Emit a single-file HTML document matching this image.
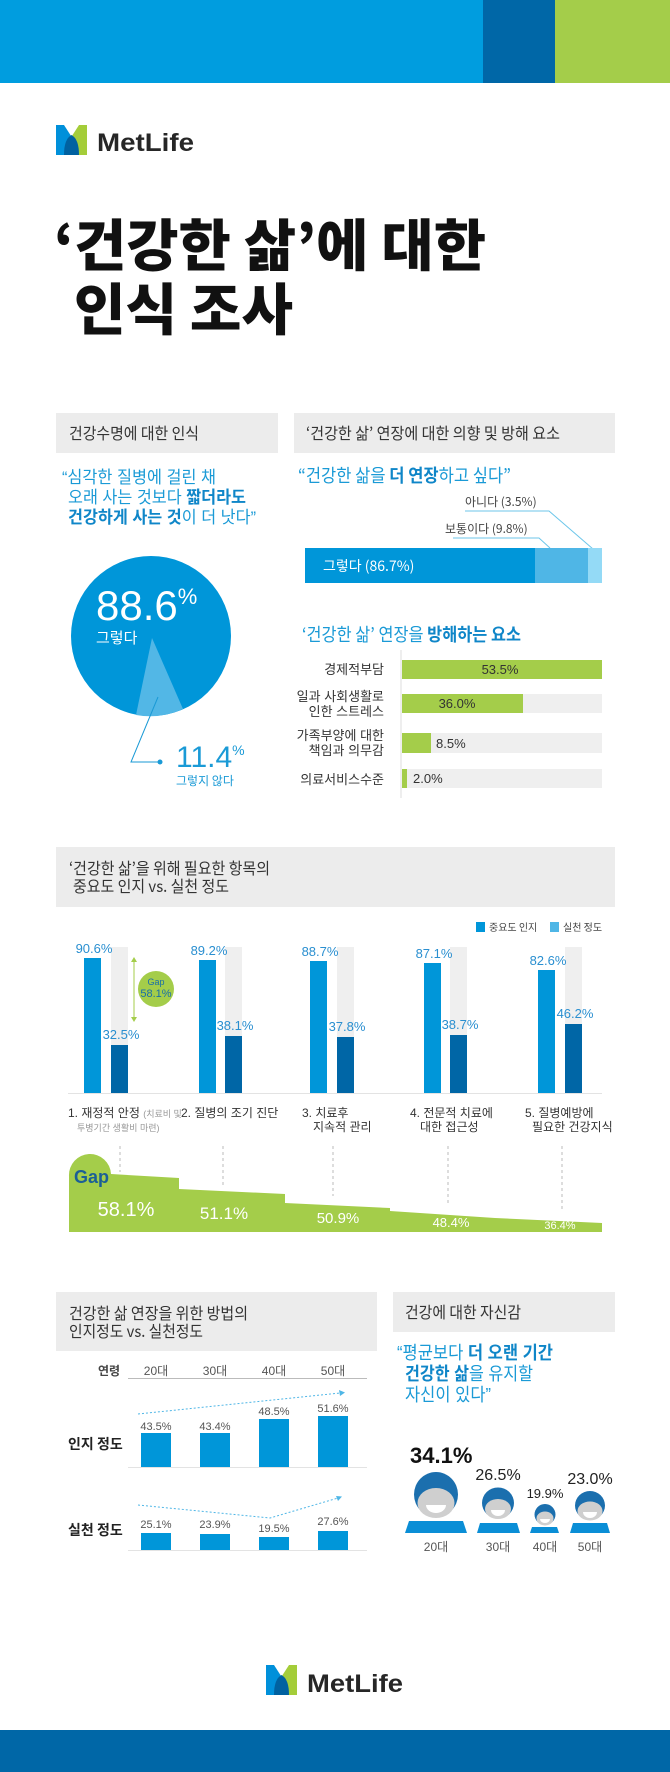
<!DOCTYPE html>
<html><head><meta charset="utf-8">
<style>
html,body{margin:0;padding:0;background:#fff;}
svg{display:block;}
text{font-family:"Liberation Sans","Noto Sans CJK KR",sans-serif;}
.k{font-family:"Noto Sans CJK KR","Liberation Sans",sans-serif;}
</style></head><body>
<svg width="670" height="1772" viewBox="0 0 670 1772" xmlns="http://www.w3.org/2000/svg">
<rect x="0" y="0" width="483" height="83" fill="#009ddf"/>
<rect x="483" y="0" width="72" height="83" fill="#0067a7"/>
<rect x="555" y="0" width="115" height="83" fill="#a4cd4a"/>

<g transform="translate(56,125)">
<polygon points="0,0 8,0 17,14 17,30 0,30" fill="#0090da"/>
<polygon points="23,0 31,0 31,30 14,30 14,14" fill="#a4cd39"/>
<path d="M8,30 Q8,14 15.5,10 Q23,14 23,30 Z" fill="#0061a0"/>
</g>
<text x="97" y="151" font-size="25" font-weight="bold" fill="#262626" textLength="97" lengthAdjust="spacingAndGlyphs">MetLife</text>

<text class="k" x="54" y="266" font-size="56" font-weight="900" fill="#111" textLength="432" lengthAdjust="spacingAndGlyphs">‘건강한 삶’에 대한</text>
<text class="k" x="74" y="330" font-size="56" font-weight="900" fill="#111" textLength="219" lengthAdjust="spacingAndGlyphs">인식 조사</text>

<rect x="56" y="413" width="222" height="40" fill="#ececec"/>
<rect x="294" y="413" width="321" height="40" fill="#ececec"/>
<text class="k" x="69" y="439" font-size="16" fill="#333" textLength="130" lengthAdjust="spacingAndGlyphs">건강수명에 대한 인식</text>
<text class="k" x="306" y="439" font-size="16" fill="#333" textLength="254" lengthAdjust="spacingAndGlyphs">‘건강한 삶’ 연장에 대한 의향 및 방해 요소</text>

<g class="k" font-size="17" fill="#1a9ad6">
<text x="62" y="483" textLength="154" lengthAdjust="spacingAndGlyphs">“심각한 질병에 걸린 채</text>
<text x="68" y="503" textLength="178" lengthAdjust="spacingAndGlyphs">오래 사는 것보다 <tspan font-weight="bold" fill="#0f86c8">짧더라도</tspan></text>
<text x="68" y="523" textLength="188" lengthAdjust="spacingAndGlyphs"><tspan font-weight="bold" fill="#0f86c8">건강하게 사는 것</tspan>이 더 낫다”</text>
</g>

<circle cx="151" cy="636" r="80" fill="#0096d9"/>
<path d="M152,638 L136,715 A80,80 0 0 0 183,709 Z" fill="#52b7e6"/>
<text x="96" y="620" font-size="42" fill="#fff">88.6<tspan font-size="22" dy="-16">%</tspan></text>
<text class="k" x="96" y="643" font-size="15" fill="#fff">그렇다</text>
<polyline points="158,697 131,762 160,762" fill="none" stroke="#1a9ad6" stroke-width="1"/>
<circle cx="160" cy="762" r="2.5" fill="#1a9ad6"/>
<text x="176" y="767" font-size="30" fill="#1a9ad6">11.4<tspan font-size="14" dy="-12">%</tspan></text>
<text class="k" x="176" y="785" font-size="12" fill="#1a9ad6">그렇지 않다</text>

<text class="k" x="298" y="482" font-size="18" fill="#1a9ad6" textLength="213" lengthAdjust="spacingAndGlyphs">“건강한 삶을 <tspan font-weight="bold" fill="#0f86c8">더 연장</tspan>하고 싶다”</text>
<text class="k" x="465" y="506" font-size="12" fill="#444">아니다 (3.5%)</text>
<text class="k" x="445" y="533" font-size="12" fill="#444">보통이다 (9.8%)</text>
<polyline points="465,511 549,511 593,549" fill="none" stroke="#6cc6ea" stroke-width="1"/>
<polyline points="453,538 539,538 550,548" fill="none" stroke="#6cc6ea" stroke-width="1"/>
<rect x="305" y="548" width="230" height="35" fill="#0096d9"/>
<rect x="535" y="548" width="53" height="35" fill="#4fb6e6"/>
<rect x="588" y="548" width="14" height="35" fill="#94daf6"/>
<text class="k" x="323" y="571" font-size="14" fill="#fff">그렇다 (86.7%)</text>

<text class="k" x="302" y="641" font-size="18" fill="#1a9ad6" textLength="219" lengthAdjust="spacingAndGlyphs">‘건강한 삶’ 연장을 <tspan font-weight="bold" fill="#0f86c8">방해하는 요소</tspan></text>
<line x1="401" y1="650" x2="401" y2="798" stroke="#ddd" stroke-width="1"/>
<g fill="#efefef">
<rect x="402" y="660" width="200" height="19"/>
<rect x="402" y="694" width="200" height="19"/>
<rect x="402" y="733" width="200" height="20"/>
<rect x="402" y="769" width="200" height="19"/>
</g>
<g fill="#a4cd4a">
<rect x="402" y="660" width="200" height="19"/>
<rect x="402" y="694" width="121" height="19"/>
<rect x="402" y="733" width="29" height="20"/>
<rect x="402" y="769" width="5" height="19"/>
</g>
<g font-size="13" fill="#333">
<text x="500" y="674" text-anchor="middle">53.5%</text>
<text x="457" y="708" text-anchor="middle">36.0%</text>
<text x="436" y="748">8.5%</text>
<text x="413" y="783">2.0%</text>
</g>
<g class="k" font-size="13" fill="#333" text-anchor="end">
<text x="384" y="674">경제적부담</text>
<text x="384" y="701">일과 사회생활로</text>
<text x="384" y="716">인한 스트레스</text>
<text x="384" y="740">가족부양에 대한</text>
<text x="384" y="755">책임과 의무감</text>
<text x="384" y="784">의료서비스수준</text>
</g>

<rect x="56" y="847" width="559" height="60" fill="#ececec"/>
<text class="k" x="69" y="874" font-size="16" fill="#333" textLength="201" lengthAdjust="spacingAndGlyphs">‘건강한 삶’을 위해 필요한 항목의</text>
<text class="k" x="73" y="892" font-size="16" fill="#333" textLength="156" lengthAdjust="spacingAndGlyphs">중요도 인지 vs. 실천 정도</text>

<rect x="476" y="922" width="9" height="10" fill="#0096d9"/>
<text class="k" x="489" y="931" font-size="10" fill="#444">중요도 인지</text>
<rect x="550" y="922" width="9" height="10" fill="#4fb6e6"/>
<text class="k" x="563" y="931" font-size="10" fill="#444">실천 정도</text>

<g fill="#efefef">
<rect x="111" y="947" width="17" height="146"/>
<rect x="225" y="947" width="17" height="146"/>
<rect x="337" y="947" width="17" height="146"/>
<rect x="450" y="947" width="17" height="146"/>
<rect x="565" y="947" width="17" height="146"/>
</g>
<g fill="#0096d9">
<rect x="84" y="958" width="17" height="135"/>
<rect x="199" y="960" width="17" height="133"/>
<rect x="310" y="961" width="17" height="132"/>
<rect x="424" y="963" width="17" height="130"/>
<rect x="538" y="970" width="17" height="123"/>
</g>
<g fill="#0066a6">
<rect x="111" y="1045" width="17" height="48"/>
<rect x="225" y="1036" width="17" height="57"/>
<rect x="337" y="1037" width="17" height="56"/>
<rect x="450" y="1035" width="17" height="58"/>
<rect x="565" y="1024" width="17" height="69"/>
</g>
<line x1="68" y1="1093.5" x2="602" y2="1093.5" stroke="#e3e3e3" stroke-width="1"/>
<g font-size="13" fill="#2a8fd0" text-anchor="middle">
<text x="94" y="953">90.6%</text>
<text x="209" y="955">89.2%</text>
<text x="320" y="956">88.7%</text>
<text x="434" y="958">87.1%</text>
<text x="548" y="965">82.6%</text>
<text x="121" y="1039">32.5%</text>
<text x="235" y="1030">38.1%</text>
<text x="347" y="1031">37.8%</text>
<text x="460" y="1029">38.7%</text>
<text x="575" y="1018">46.2%</text>
</g>
<line x1="134" y1="960" x2="134" y2="1019" stroke="#a4cd4a" stroke-width="1"/>
<polygon points="131,962 137,962 134,957" fill="#a4cd4a"/>
<polygon points="131,1017 137,1017 134,1022" fill="#a4cd4a"/>
<circle cx="156" cy="989" r="18" fill="#a4cd4a"/>
<text x="156" y="985" font-size="9" fill="#1a6ea8" text-anchor="middle">Gap</text>
<text x="156" y="997" font-size="11" fill="#1a6ea8" text-anchor="middle">58.1%</text>

<g class="k" font-size="12" fill="#333">
<text x="68" y="1117">1. 재정적 안정 <tspan fill="#999" font-size="9">(치료비 및</tspan></text>
<text x="77" y="1131" fill="#999" font-size="9">투병기간 생활비 마련)</text>
<text x="181" y="1117">2. 질병의 조기 진단</text>
<text x="302" y="1117">3. 치료후</text>
<text x="313" y="1131">지속적 관리</text>
<text x="410" y="1117">4. 전문적 치료에</text>
<text x="420" y="1131">대한 접근성</text>
<text x="525" y="1117">5. 질병예방에</text>
<text x="532" y="1131">필요한 건강지식</text>
</g>

<g stroke="#bbb" stroke-width="1" stroke-dasharray="3,3">
<line x1="120" y1="1146" x2="120" y2="1172"/>
<line x1="223" y1="1146" x2="223" y2="1186"/>
<line x1="333" y1="1146" x2="333" y2="1196"/>
<line x1="448" y1="1146" x2="448" y2="1206"/>
<line x1="562" y1="1146" x2="562" y2="1212"/>
</g>
<path d="M69,1232 L69,1176 A21,21 0 0 1 111,1174 L179,1178 L179,1189 L285,1194 L285,1203 L390,1208 L390,1211 L495,1218 L602,1223 L602,1232 Z" fill="#a4cd4a"/>
<text x="74" y="1183" font-size="18" font-weight="bold" fill="#1b5f96">Gap</text>
<g fill="#fff" text-anchor="middle">
<text x="126" y="1216" font-size="20">58.1%</text>
<text x="224" y="1219" font-size="17">51.1%</text>
<text x="338" y="1223" font-size="15">50.9%</text>
<text x="451" y="1227" font-size="13">48.4%</text>
<text x="560" y="1229" font-size="11">36.4%</text>
</g>

<rect x="56" y="1292" width="321" height="59" fill="#ececec"/>
<text class="k" x="69" y="1319" font-size="16" fill="#333" textLength="179" lengthAdjust="spacingAndGlyphs">건강한 삶 연장을 위한 방법의</text>
<text class="k" x="69" y="1337" font-size="16" fill="#333" textLength="134" lengthAdjust="spacingAndGlyphs">인지정도 vs. 실천정도</text>

<text class="k" x="98" y="1375" font-size="12" fill="#444" font-weight="bold">연령</text>
<g class="k" font-size="12" fill="#555" text-anchor="middle">
<text x="156" y="1375">20대</text>
<text x="215" y="1375">30대</text>
<text x="274" y="1375">40대</text>
<text x="333" y="1375">50대</text>
</g>
<line x1="128" y1="1378.5" x2="367" y2="1378.5" stroke="#bbb" stroke-width="1"/>

<text class="k" x="68" y="1449" font-size="14" font-weight="bold" fill="#222">인지 정도</text>
<text class="k" x="68" y="1535" font-size="14" font-weight="bold" fill="#222">실천 정도</text>

<g fill="#0096d9">
<rect x="141" y="1433" width="30" height="34"/>
<rect x="200" y="1433" width="30" height="34"/>
<rect x="259" y="1419" width="30" height="48"/>
<rect x="318" y="1416" width="30" height="51"/>
<rect x="141" y="1533" width="30" height="17"/>
<rect x="200" y="1534" width="30" height="16"/>
<rect x="259" y="1537" width="30" height="13"/>
<rect x="318" y="1531" width="30" height="19"/>
</g>
<line x1="128" y1="1467.5" x2="367" y2="1467.5" stroke="#e3e3e3"/>
<line x1="128" y1="1550.5" x2="367" y2="1550.5" stroke="#e3e3e3"/>
<g font-size="11" fill="#555" text-anchor="middle">
<text x="156" y="1430">43.5%</text>
<text x="215" y="1430">43.4%</text>
<text x="274" y="1415">48.5%</text>
<text x="333" y="1412">51.6%</text>
<text x="156" y="1528">25.1%</text>
<text x="215" y="1528">23.9%</text>
<text x="274" y="1532">19.5%</text>
<text x="333" y="1525">27.6%</text>
</g>
<g stroke="#4fb6e6" stroke-width="1" stroke-dasharray="2,2" fill="none">
<line x1="138" y1="1414" x2="340" y2="1393"/>
<polyline points="138,1505 270,1518 338,1498"/>
</g>
<polygon points="339,1390 345,1392.5 340,1396" fill="#4fb6e6"/>
<polygon points="336,1496 342,1496.5 338,1501" fill="#4fb6e6"/>

<rect x="393" y="1292" width="222" height="40" fill="#ececec"/>
<text class="k" x="405" y="1318" font-size="16" fill="#333" textLength="116" lengthAdjust="spacingAndGlyphs">건강에 대한 자신감</text>
<g class="k" font-size="18" fill="#1a9ad6">
<text x="397" y="1359" textLength="156" lengthAdjust="spacingAndGlyphs">“평균보다 <tspan font-weight="bold" fill="#0f86c8">더 오랜 기간</tspan></text>
<text x="405" y="1380" textLength="128" lengthAdjust="spacingAndGlyphs"><tspan font-weight="bold" fill="#0f86c8">건강한 삶</tspan>을 유지할</text>
<text x="405" y="1401" textLength="86" lengthAdjust="spacingAndGlyphs">자신이 있다”</text>
</g>

<text x="410" y="1463" font-size="22" font-weight="bold" fill="#111">34.1%</text>
<text x="498" y="1480" font-size="16" fill="#222" text-anchor="middle">26.5%</text>
<text x="545" y="1498" font-size="13" fill="#222" text-anchor="middle">19.9%</text>
<text x="590" y="1484" font-size="16" fill="#222" text-anchor="middle">23.0%</text>

<g>
<ellipse cx="436" cy="1494.5" rx="22" ry="22.5" fill="#1b6fae"/>
<ellipse cx="436" cy="1503" rx="18.5" ry="15" fill="#cfcfcf"/>
<path d="M426,1505 A10,8 0 0 0 446,1505 Z" fill="#fff"/>
<polygon points="409,1521 463,1521 467,1533 405,1533" fill="#0a8ed6"/>
<ellipse cx="498" cy="1503" rx="16" ry="15.5" fill="#1b6fae"/>
<ellipse cx="498" cy="1509" rx="13" ry="10" fill="#cfcfcf"/>
<path d="M491,1510 A7,6 0 0 0 505,1510 Z" fill="#fff"/>
<polygon points="480,1523 517,1523 520,1533 477,1533" fill="#0a8ed6"/>
<ellipse cx="545" cy="1514.5" rx="10.5" ry="10.5" fill="#1b6fae"/>
<ellipse cx="545" cy="1518.5" rx="8.5" ry="7" fill="#cfcfcf"/>
<path d="M540,1519 A5,4 0 0 0 550,1519 Z" fill="#fff"/>
<polygon points="532,1527 557,1527 559,1533 530,1533" fill="#0a8ed6"/>
<ellipse cx="590" cy="1505.5" rx="15" ry="14.5" fill="#1b6fae"/>
<ellipse cx="590" cy="1511" rx="12.5" ry="9.5" fill="#cfcfcf"/>
<path d="M583,1512 A7,6 0 0 0 597,1512 Z" fill="#fff"/>
<polygon points="573,1523 607,1523 610,1533 570,1533" fill="#0a8ed6"/>
</g>
<g class="k" font-size="12" fill="#555" text-anchor="middle">
<text x="436" y="1551">20대</text>
<text x="498" y="1551">30대</text>
<text x="545" y="1551">40대</text>
<text x="590" y="1551">50대</text>
</g>

<g transform="translate(266,1665)">
<polygon points="0,0 8,0 17,14 17,30 0,30" fill="#0090da"/>
<polygon points="23,0 31,0 31,30 14,30 14,14" fill="#a4cd39"/>
<path d="M8,30 Q8,14 15.5,10 Q23,14 23,30 Z" fill="#0061a0"/>
</g>
<text x="307" y="1692" font-size="25" font-weight="bold" fill="#262626" textLength="96" lengthAdjust="spacingAndGlyphs">MetLife</text>

<rect x="0" y="1730" width="670" height="42" fill="#0067a7"/>
</svg>
</body></html>
